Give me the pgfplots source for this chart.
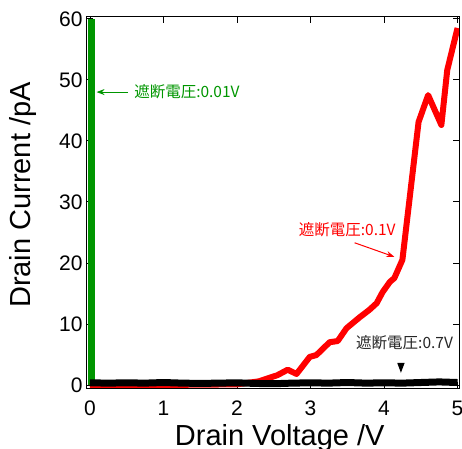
\documentclass[border=0pt]{standalone}
\usepackage{fontspec}
\setmainfont{Liberation Sans}
\newfontfamily\jp{Noto Sans CJK JP}
\usepackage{pgfplots}
\pgfplotsset{compat=1.18}
\usetikzlibrary{arrows.meta}
\definecolor{mygreen}{RGB}{0,150,0}
\begin{document}
\begin{tikzpicture}
\begin{axis}[
  scale only axis,
  width=372pt, height=371pt,
  anchor=south west, at={(0,0)},
  xmin=-0.04, xmax=5.02,
  ymin=-0.5, ymax=60.3,
  xtick={0,1,2,3,4,5},
  ytick={0,10,20,30,40,50,60},
  tick align=inside,
  major tick length=6pt,
  tick style={black, line width=0.8pt},
  axis line style={line width=1pt},
  /pgf/number format/assume math mode=true,
  ticklabel style={font=\fontsize{21}{23}\selectfont},
  xticklabel style={anchor=base, yshift=-27pt},
  yticklabel style={xshift=-1pt},
  xlabel={Drain Voltage /V},
  ylabel={Drain Current /pA},
  label style={font=\fontsize{29}{32}\selectfont},
  xlabel style={at={(axis description cs:0.518,-0.154)}, anchor=base},
  ylabel style={at={(axis description cs:-0.153,0.52)}, anchor=base},
  clip=true,
]
% green
\addplot[mygreen, line width=7pt] coordinates {(0.02,0) (0.02,60)};
% red
\addplot[red, line width=6pt, line join=round] coordinates {
(0,0) (1.0,0) (2.0,0.1) (2.3,0.6) (2.55,1.6) (2.69,2.5) (2.81,1.8)
(2.99,4.6) (3.08,4.9) (3.26,7.0) (3.37,7.2) (3.49,9.3) (3.67,11.1)
(3.80,12.3) (3.90,13.4) (3.98,15.2) (4.08,16.9) (4.14,17.5) (4.25,20.5)
(4.47,43.1) (4.60,47.5) (4.78,42.6) (4.86,51.6) (5.0,58.5)};
% black
\addplot[black, line width=7pt, line join=round] coordinates {
(0,0.35) (0.25,0.3) (0.5,0.35) (0.75,0.3) (1.0,0.4) (1.25,0.3) (1.5,0.25)
(1.75,0.3) (2.0,0.35) (2.25,0.25) (2.5,0.2) (2.75,0.3) (3.0,0.35) (3.25,0.3)
(3.5,0.4) (3.75,0.3) (4.0,0.35) (4.25,0.3) (4.5,0.4) (4.75,0.5) (5.0,0.4)};
% annotations
\draw[mygreen, line width=1pt, -{Stealth[length=8pt,width=6pt]}] (axis cs:0.52,48) -- (axis cs:0.09,48);
\node[anchor=west, text=mygreen, font=\jp\fontsize{15.5}{17}\selectfont, inner sep=0pt] at (axis cs:0.6,48) {遮断電圧:0.01V};
\node[anchor=center, text=red, font=\jp\fontsize{15.5}{17}\selectfont, inner sep=0pt] at (axis cs:3.5,25.4) {遮断電圧:0.1V};
\draw[red, line width=1pt, -{Stealth[length=8pt,width=6pt]}] (axis cs:3.6,23.3) -- (axis cs:4.14,21.0);
\node[anchor=center, text=black!85, font=\jp\fontsize{15.5}{17}\selectfont, inner sep=0pt] at (axis cs:4.28,7.0) {遮断電圧:0.7V};
\fill[black] (axis cs:4.18,3.6) -- (axis cs:4.28,3.6) -- (axis cs:4.23,2.0) -- cycle;
\end{axis}
\pgfresetboundingbox
\path[use as bounding box] (-87pt,-60pt) rectangle (375pt,388pt);
\end{tikzpicture}
\end{document}
